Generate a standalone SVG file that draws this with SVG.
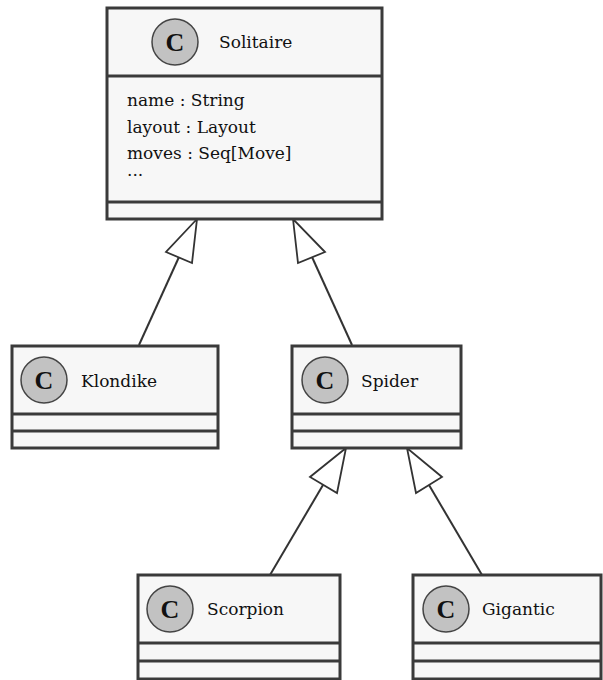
<svg xmlns="http://www.w3.org/2000/svg" width="603" height="680" viewBox="0 0 603 680">
<style>
.box{fill:#f7f7f7;stroke:#3a3a3a;stroke-width:3}
.div{stroke:#3a3a3a;stroke-width:3}
.ic{fill:#c2c2c2;stroke:#444;stroke-width:1.5}
.cl{font-family:"Liberation Serif","DejaVu Serif",serif;font-weight:bold;font-size:26px;fill:#111;text-anchor:middle}
.nm{font-family:"DejaVu Serif","Liberation Serif",serif;font-size:17px;fill:#111}
.at{font-family:"DejaVu Serif","Liberation Serif",serif;font-size:17px;fill:#111}
.edge{stroke:#333;stroke-width:2;fill:none}
.head{fill:#fff;stroke:#333;stroke-width:1.8;stroke-linejoin:miter}
</style>
<rect width="603" height="680" fill="#fff"/>
<g id="connectors">
<line class="edge" x1="179" y1="257" x2="139" y2="345"/>
<polygon class="head" points="197,219 166,252 192,263"/>
<line class="edge" x1="312" y1="257" x2="352" y2="345"/>
<polygon class="head" points="293,219 298,263 325,252"/>
<line class="edge" x1="323" y1="485" x2="270" y2="575"/>
<polygon class="head" points="346,448 310,477 337,493"/>
<line class="edge" x1="429" y1="485" x2="482" y2="575"/>
<polygon class="head" points="407,448 416,493 442,477"/>
</g>
<g id="Solitaire">
<rect class="box" x="107" y="8" width="275" height="211"/>
<line class="div" x1="107" y1="76" x2="382" y2="76"/>
<line class="div" x1="107" y1="202" x2="382" y2="202"/>
<circle class="ic" cx="175" cy="42" r="23"/>
<text class="cl" x="175" y="51">C</text>
<text class="nm" x="219" y="48">Solitaire</text>
<text class="at" x="127" y="106">name : String</text>
<text class="at" x="127" y="133">layout : Layout</text>
<text class="at" x="127" y="159">moves : Seq[Move]</text>
<text class="at" x="127" y="176">...</text>
</g>
<g id="Klondike">
<rect class="box" x="12" y="346" width="206" height="102"/>
<line class="div" x1="12" y1="414" x2="218" y2="414"/>
<line class="div" x1="12" y1="431" x2="218" y2="431"/>
<circle class="ic" cx="44" cy="380" r="23"/>
<text class="cl" x="44" y="389">C</text>
<text class="nm" x="81" y="387">Klondike</text>
</g>
<g id="Spider">
<rect class="box" x="292" y="346" width="169" height="102"/>
<line class="div" x1="292" y1="414" x2="461" y2="414"/>
<line class="div" x1="292" y1="431" x2="461" y2="431"/>
<circle class="ic" cx="325" cy="380" r="23"/>
<text class="cl" x="325" y="389">C</text>
<text class="nm" x="361" y="387">Spider</text>
</g>
<g id="Scorpion">
<rect class="box" x="138" y="575" width="202" height="104"/>
<line class="div" x1="138" y1="643" x2="340" y2="643"/>
<line class="div" x1="138" y1="661" x2="340" y2="661"/>
<circle class="ic" cx="170" cy="609" r="23"/>
<text class="cl" x="170" y="618">C</text>
<text class="nm" x="207" y="615">Scorpion</text>
</g>
<g id="Gigantic">
<rect class="box" x="413" y="575" width="188" height="104"/>
<line class="div" x1="413" y1="643" x2="601" y2="643"/>
<line class="div" x1="413" y1="661" x2="601" y2="661"/>
<circle class="ic" cx="446" cy="609" r="23"/>
<text class="cl" x="446" y="618">C</text>
<text class="nm" x="482" y="615">Gigantic</text>
</g>
</svg>
